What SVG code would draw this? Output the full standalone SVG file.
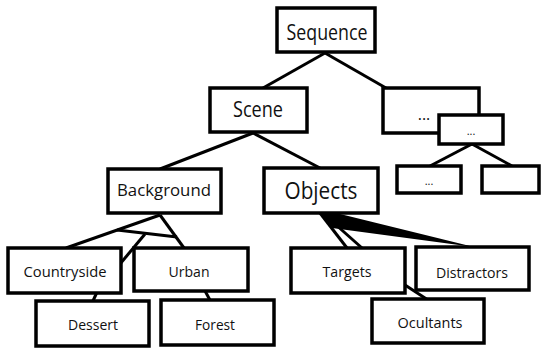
<svg xmlns="http://www.w3.org/2000/svg" width="542" height="350" viewBox="0 0 542 350">
<style>
.box{fill:#fff;stroke:#000;stroke-width:3.5}
.ln{stroke:#000;stroke-width:3;fill:none;stroke-linecap:butt}
text{font-family:"Open Sans","Noto Sans","DejaVu Sans",sans-serif;fill:#111;text-anchor:middle}
</style>
<rect width="542" height="350" fill="#fff"/>
<g id="connectors">
<line class="ln" x1="325" y1="53" x2="263" y2="88"/>
<line class="ln" x1="325" y1="53" x2="386" y2="88"/>
<line class="ln" x1="253" y1="133" x2="160" y2="169"/>
<line class="ln" x1="253" y1="133" x2="320" y2="168"/>
<line class="ln" x1="472" y1="144" x2="430" y2="166"/>
<line class="ln" x1="472" y1="144" x2="512" y2="166"/>
<line class="ln" x1="160" y1="215" x2="66" y2="248"/>
<line class="ln" x1="160" y1="215" x2="184" y2="248"/>
<line class="ln" x1="117" y1="230" x2="177" y2="237"/>
<line class="ln" x1="145" y1="234" x2="120" y2="264"/>
<line class="ln" x1="98" y1="290" x2="92" y2="303"/>
<line class="ln" x1="204" y1="289" x2="211" y2="302"/>
<line class="ln" x1="320" y1="213" x2="347" y2="248"/>
<line class="ln" x1="326" y1="216" x2="362" y2="248"/>
<polygon points="321,213 336,213 474,247 332,228" fill="#000"/>
<line class="ln" x1="382" y1="270" x2="428" y2="300"/>
</g>
<g id="sequence"><rect class="box" x="277" y="8" width="98" height="44"/><text x="327" y="40" font-size="21" textLength="81" lengthAdjust="spacingAndGlyphs">Sequence</text></g>
<g id="scene"><rect class="box" x="210" y="88" width="97" height="44"/><text x="258" y="117" font-size="21" textLength="50" lengthAdjust="spacingAndGlyphs">Scene</text></g>
<g id="more1"><rect class="box" x="383" y="88" width="96" height="45"/><text x="424" y="120" font-size="16">...</text></g>
<g id="more2"><rect class="box" x="439" y="115" width="64" height="29"/><text x="471" y="135" font-size="11">...</text></g>
<g id="more3"><rect class="box" x="397" y="166" width="64" height="27"/><text x="429" y="185" font-size="11">...</text></g>
<g id="more4"><rect class="box" x="482" y="166" width="57" height="27"/></g>
<g id="background"><rect class="box" x="108" y="169" width="113" height="44"/><text x="164" y="196" font-size="17" textLength="94" lengthAdjust="spacingAndGlyphs">Background</text></g>
<g id="objects"><rect class="box" x="264" y="168" width="114" height="45"/><text x="321" y="199" font-size="24" textLength="73" lengthAdjust="spacingAndGlyphs">Objects</text></g>
<g id="countryside"><rect class="box" x="8" y="248" width="113" height="45"/><text x="65" y="277" font-size="15" textLength="83" lengthAdjust="spacingAndGlyphs">Countryside</text></g>
<g id="urban"><rect class="box" x="134" y="248" width="114" height="43"/><text x="189" y="277" font-size="15" textLength="41" lengthAdjust="spacingAndGlyphs">Urban</text></g>
<g id="dessert"><rect class="box" x="36" y="301" width="113" height="45"/><text x="93" y="330" font-size="15" textLength="50" lengthAdjust="spacingAndGlyphs">Dessert</text></g>
<g id="forest"><rect class="box" x="161" y="300" width="113" height="45"/><text x="215" y="330" font-size="15" textLength="40" lengthAdjust="spacingAndGlyphs">Forest</text></g>
<g id="targets"><rect class="box" x="291" y="248" width="114" height="45"/><text x="347" y="277" font-size="15" textLength="49" lengthAdjust="spacingAndGlyphs">Targets</text></g>
<g id="distractors"><rect class="box" x="416" y="247" width="113" height="43"/><text x="472" y="278" font-size="15" textLength="72" lengthAdjust="spacingAndGlyphs">Distractors</text></g>
<g id="ocultants"><rect class="box" x="372" y="299" width="112" height="44"/><text x="430" y="328" font-size="15" textLength="65" lengthAdjust="spacingAndGlyphs">Ocultants</text></g>
</svg>
